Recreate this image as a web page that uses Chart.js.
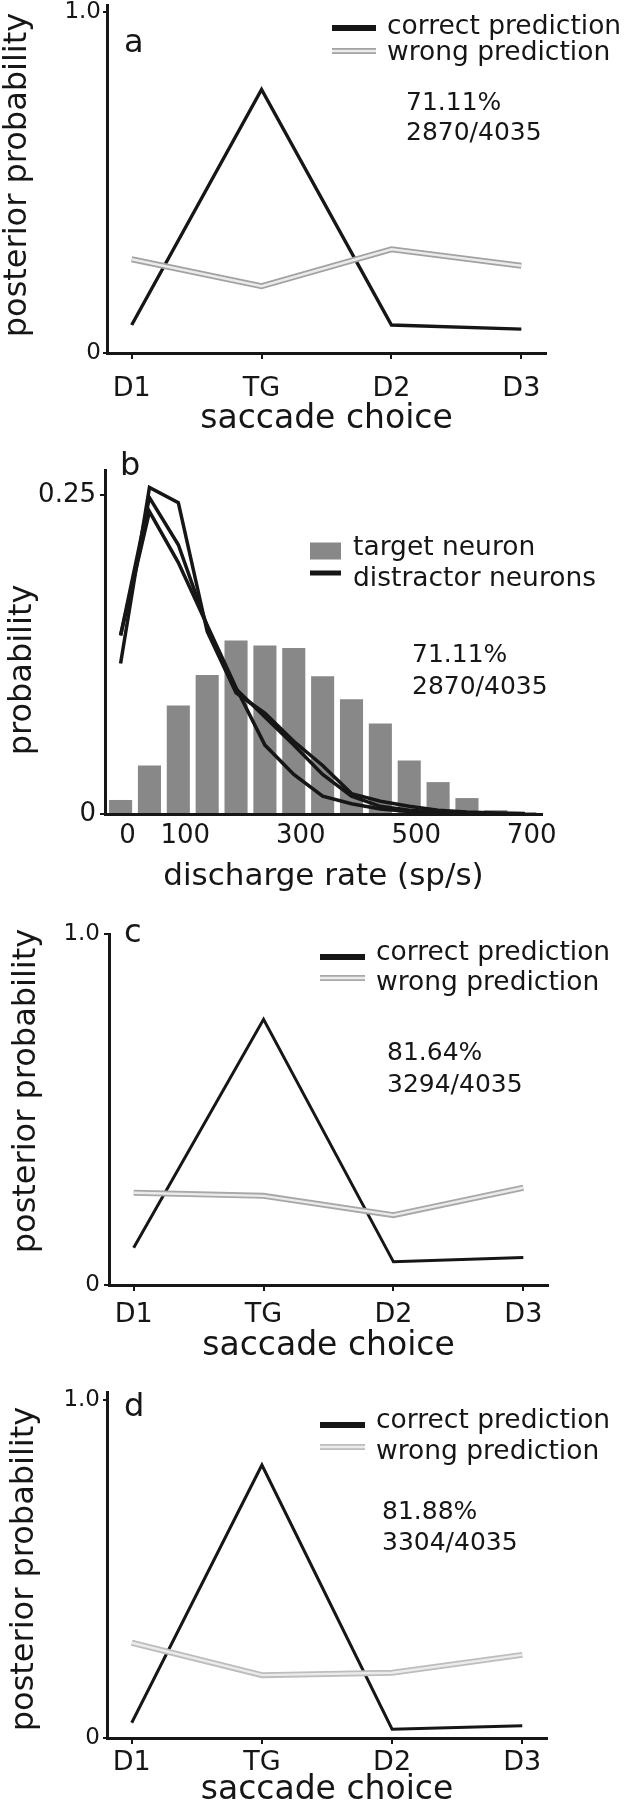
<!DOCTYPE html>
<html>
<head>
<meta charset="utf-8">
<script src="https://cdn.jsdelivr.net/npm/chart.js@4.4.1/dist/chart.umd.min.js"></script>
<style>
  html, body { margin: 0; padding: 0; background: #fff; }
  body { width: 628px; height: 1800px; position: relative; overflow: hidden; }
  canvas { position: absolute; left: 0; }
</style>
</head>
<body>
<canvas id="panelA"></canvas>
<canvas id="panelB"></canvas>
<canvas id="panelC"></canvas>
<canvas id="panelD"></canvas>
<script>
const FONT = '"DejaVu Sans", "Liberation Sans", sans-serif';
const INK = '#161616';

// panels a, c, d: posterior probability for each saccade choice
const choices = ['D1', 'TG', 'D2', 'D3'];
const probTicks = [0, 1];
const probTickLabels = ['0', '1.0'];

const correctA = [0.082, 0.773, 0.082, 0.070];
const wrongA = [0.275, 0.196, 0.304, 0.256];
const notesA = ['71.11%', '2870/4035'];

const correctC = [0.106, 0.757, 0.066, 0.078];
const wrongC = [0.263, 0.254, 0.199, 0.277];
const notesC = ['81.64%', '3294/4035'];

const correctD = [0.045, 0.808, 0.026, 0.036];
const wrongD = [0.282, 0.186, 0.193, 0.246];
const notesD = ['81.88%', '3304/4035'];

// panel b: discharge rate distributions
const rateBins = [0, 50, 100, 150, 200, 250, 300, 350, 400, 450, 500, 550, 600, 650, 700];
const rateTicks = [0, 100, 300, 500, 700];
const densityTicks = [0, 0.25];
const densityTickLabels = ['0', '0.25'];
const targetNeuron = [0.011, 0.038, 0.085, 0.109, 0.136, 0.132, 0.130, 0.108, 0.090, 0.071, 0.042, 0.025, 0.0125, 0.003, 0.0015];
const distractor1 = [0.118, 0.256, 0.244, 0.143, 0.095, 0.079, 0.057, 0.038, 0.016, 0.010, 0.006, 0.003, 0.0015, 0.0008, 0.0003];
const distractor2 = [0.140, 0.248, 0.211, 0.147, 0.098, 0.076, 0.054, 0.031, 0.014, 0.006, 0.003, 0.0015, 0.0008, 0.0003, 0.0001];
const distractor3 = [0.140, 0.237, 0.197, 0.148, 0.099, 0.054, 0.031, 0.014, 0.008, 0.004, 0.002, 0.001, 0.0005, 0.0002, 0.0001];
const notesB = ['71.11%', '2870/4035'];

const points = (xs, ys) => ys.map((y, i) => ({ x: xs[i], y: y }));
const choiceIndex = choices.map((_, i) => i);

// letters, y titles, legend keys and the percentage notes, drawn on top of each chart
const panelText = {
  id: 'panelText',
  afterDraw(chart, args, o) {
    const ctx = chart.ctx;
    const dy = o.top;
    ctx.save();
    ctx.fillStyle = INK;

    // rotated y axis title
    ctx.save();
    ctx.translate(o.yTitleX, o.yTitleY - dy);
    ctx.rotate(-Math.PI / 2);
    ctx.textAlign = 'center';
    ctx.textBaseline = 'middle';
    ctx.font = '32px ' + FONT;
    ctx.fillText(o.yTitle, 0, 0);
    ctx.restore();

    ctx.textAlign = 'left';
    ctx.textBaseline = 'middle';
    ctx.font = '32px ' + FONT;
    ctx.fillText(o.letter, o.letterX, o.letterY - dy);

    o.keys.forEach(k => {
      if (k.box) {
        ctx.fillStyle = k.box;
        ctx.fillRect(k.x1, k.y - k.h / 2 - dy, k.x2 - k.x1, k.h);
      } else {
        k.strokes.forEach(s => {
          ctx.strokeStyle = s[0];
          ctx.lineWidth = s[1];
          ctx.beginPath();
          ctx.moveTo(k.x1, k.y - dy);
          ctx.lineTo(k.x2, k.y - dy);
          ctx.stroke();
        });
      }
      ctx.fillStyle = INK;
      ctx.font = '26.5px ' + FONT;
      ctx.fillText(k.text, k.tx, k.ty - dy);
    });

    ctx.font = '25px ' + FONT;
    o.notes.forEach((t, i) => ctx.fillText(t, o.noteX, o.noteY[i] - dy));
    ctx.restore();
  }
};

function setupCanvas(id, g) {
  const c = document.getElementById(id);
  c.width = 628;
  c.height = g.height;
  c.style.width = '628px';
  c.style.height = g.height + 'px';
  c.style.top = g.top + 'px';
  return c;
}

function yAxis(g, max, tickVals, tickLabels, tickSize) {
  return {
    min: 0,
    max: max,
    afterBuildTicks: s => { s.ticks = tickVals.map(v => ({ value: v })); },
    afterFit: s => { s.width = g.left; s.paddingTop = 0; s.paddingBottom = 0; },
    ticks: {
      callback: (v, i) => tickLabels[i],
      color: INK, autoSkip: false, padding: g.yTickPad,
      font: { family: FONT, size: tickSize }
    },
    grid: { drawOnChartArea: false, tickLength: g.yTickLen, color: INK, lineWidth: 2 },
    border: { color: INK, width: 3 },
    title: { display: false }
  };
}

function posteriorPanel(id, g, correct, wrong, wrongEdge, notes, letter, key) {
  const canvas = setupCanvas(id, g);
  return new Chart(canvas, {
    type: 'line',
    data: {
      datasets: [
        { data: points(choiceIndex, correct), borderColor: INK, borderWidth: g.lineWidth, order: 2 },
        { data: points(choiceIndex, wrong), borderColor: wrongEdge, borderWidth: 6, order: 1 },
        { data: points(choiceIndex, wrong), borderColor: '#ebebeb', borderWidth: 2.4, order: 0 }
      ]
    },
    options: {
      responsive: false,
      animation: false,
      devicePixelRatio: 1,
      layout: { padding: { left: 0, top: g.areaTop - g.top, right: 628 - g.right, bottom: 0 } },
      elements: {
        point: { radius: 0 },
        line: { tension: 0, borderJoinStyle: 'miter', fill: false }
      },
      scales: {
        x: {
          type: 'linear',
          min: -0.19,
          max: 3.19,
          afterBuildTicks: s => { s.ticks = choiceIndex.map(v => ({ value: v })); },
          afterFit: s => { s.height = g.height - (g.areaBottom - g.top); s.paddingLeft = 0; s.paddingRight = 0; },
          ticks: {
            callback: (v, i) => choices[i],
            color: INK, autoSkip: false, maxRotation: 0, padding: g.xTickPad,
            font: { family: FONT, size: 27 }
          },
          grid: { drawOnChartArea: false, tickLength: 6, color: INK, lineWidth: 2 },
          border: { color: INK, width: 3 },
          title: {
            display: true, text: 'saccade choice', color: INK,
            font: { family: FONT, size: 33 }, padding: { top: 0, bottom: 0 }
          }
        },
        y: yAxis(g, g.yMax, probTicks, probTickLabels, 23)
      },
      plugins: {
        legend: { display: false },
        tooltip: { enabled: false },
        panelText: {
          top: g.top, letter: letter, letterX: 124, letterY: g.letterY,
          yTitle: 'posterior probability', yTitleX: g.yTitleX, yTitleY: g.yTitleY,
          keys: [
            { x1: key.x1, x2: key.x2, y: key.y[0], strokes: [[INK, 6]], text: 'correct prediction', tx: key.tx, ty: key.ty[0] },
            { x1: key.x1, x2: key.x2, y: key.y[1], strokes: [[wrongEdge, 6], ['#ebebeb', 2.4]], text: 'wrong prediction', tx: key.tx, ty: key.ty[1] }
          ],
          notes: notes, noteX: g.noteX, noteY: g.noteY
        }
      }
    },
    plugins: [panelText]
  });
}

// panel a
posteriorPanel('panelA',
  { top: 0, height: 439, left: 107, right: 546, areaTop: 5, areaBottom: 353, yMax: 1.0205,
    yTickLen: 4, yTickPad: 2, xTickPad: 14, lineWidth: 3.4,
    yTitleX: 18, yTitleY: 175,
    letterY: 44, noteX: 406, noteY: [103, 133] },
  correctA, wrongA, '#a2a2a2', notesA, 'a',
  { x1: 332, x2: 376, y: [28, 51], tx: 387, ty: [27, 53] });

// panel c
posteriorPanel('panelC',
  { top: 900, height: 466, left: 109, right: 548, areaTop: 934, areaBottom: 1285, yMax: 1,
    yTickLen: 5, yTickPad: 4, xTickPad: 8, lineWidth: 3,
    yTitleX: 27, yTitleY: 1091,
    letterY: 934, noteX: 387, noteY: [1053, 1085] },
  correctC, wrongC, '#a8a8a8', notesC, 'c',
  { x1: 320, x2: 365, y: [957, 978], tx: 376, ty: [953, 983] });

// panel d
posteriorPanel('panelD',
  { top: 1360, height: 450, left: 107, right: 547, areaTop: 1392, areaBottom: 1738, yMax: 1.024,
    yTickLen: 4, yTickPad: 3, xTickPad: 3, lineWidth: 3,
    yTitleX: 25, yTitleY: 1569,
    letterY: 1408, noteX: 382, noteY: [1512, 1543] },
  correctD, wrongD, '#bdbdbd', notesD, 'd',
  { x1: 320, x2: 365, y: [1425, 1447], tx: 376, ty: [1421, 1452] });

// panel b
(function () {
  const g = { top: 440, height: 456, left: 105, right: 542, areaTop: 470, areaBottom: 814,
              yTickLen: 5, yTickPad: 4 };
  const canvas = setupCanvas('panelB', g);
  const line = data => ({
    type: 'line', data: points(rateBins, data), borderColor: INK, borderWidth: 3.5,
    pointRadius: 0, tension: 0, fill: false, order: 0
  });
  new Chart(canvas, {
    type: 'bar',
    data: {
      datasets: [
        { type: 'bar', data: points(rateBins, targetNeuron), backgroundColor: '#888888',
          barPercentage: 1, categoryPercentage: 0.8, order: 1 },
        line(distractor1),
        line(distractor2),
        line(distractor3)
      ]
    },
    options: {
      responsive: false,
      animation: false,
      devicePixelRatio: 1,
      layout: { padding: { left: 0, top: g.areaTop - g.top, right: 628 - g.right, bottom: 0 } },
      scales: {
        x: {
          type: 'linear',
          min: -27,
          max: 730,
          offset: false,
          afterBuildTicks: s => { s.ticks = rateTicks.map(v => ({ value: v })); },
          afterFit: s => { s.height = g.height - (g.areaBottom - g.top); s.paddingLeft = 0; s.paddingRight = 0; },
          ticks: {
            callback: (v, i) => String(rateTicks[i]),
            color: INK, autoSkip: false, maxRotation: 0, padding: 7, labelOffset: 7,
            font: { family: FONT, size: 26 }
          },
          grid: { display: false, drawTicks: false, offset: false },
          border: { color: INK, width: 3 },
          title: {
            display: true, text: 'discharge rate (sp/s)', color: INK,
            font: { family: FONT, size: 31 }, padding: { top: 0, bottom: 0 }
          }
        },
        y: yAxis(g, 0.2696, densityTicks, densityTickLabels, 26)
      },
      plugins: {
        legend: { display: false },
        tooltip: { enabled: false },
        panelText: {
          top: g.top, letter: 'b', letterX: 120, letterY: 467,
          yTitle: 'probability', yTitleX: 23, yTitleY: 670,
          keys: [
            { x1: 310, x2: 341, y: 551, h: 17, box: '#888888', text: 'target neuron', tx: 353, ty: 548 },
            { x1: 310, x2: 341, y: 573, strokes: [[INK, 5]], text: 'distractor neurons', tx: 353, ty: 579 }
          ],
          notes: notesB, noteX: 412, noteY: [655, 687]
        }
      }
    },
    plugins: [panelText]
  });
})();
</script>
</body>
</html>
